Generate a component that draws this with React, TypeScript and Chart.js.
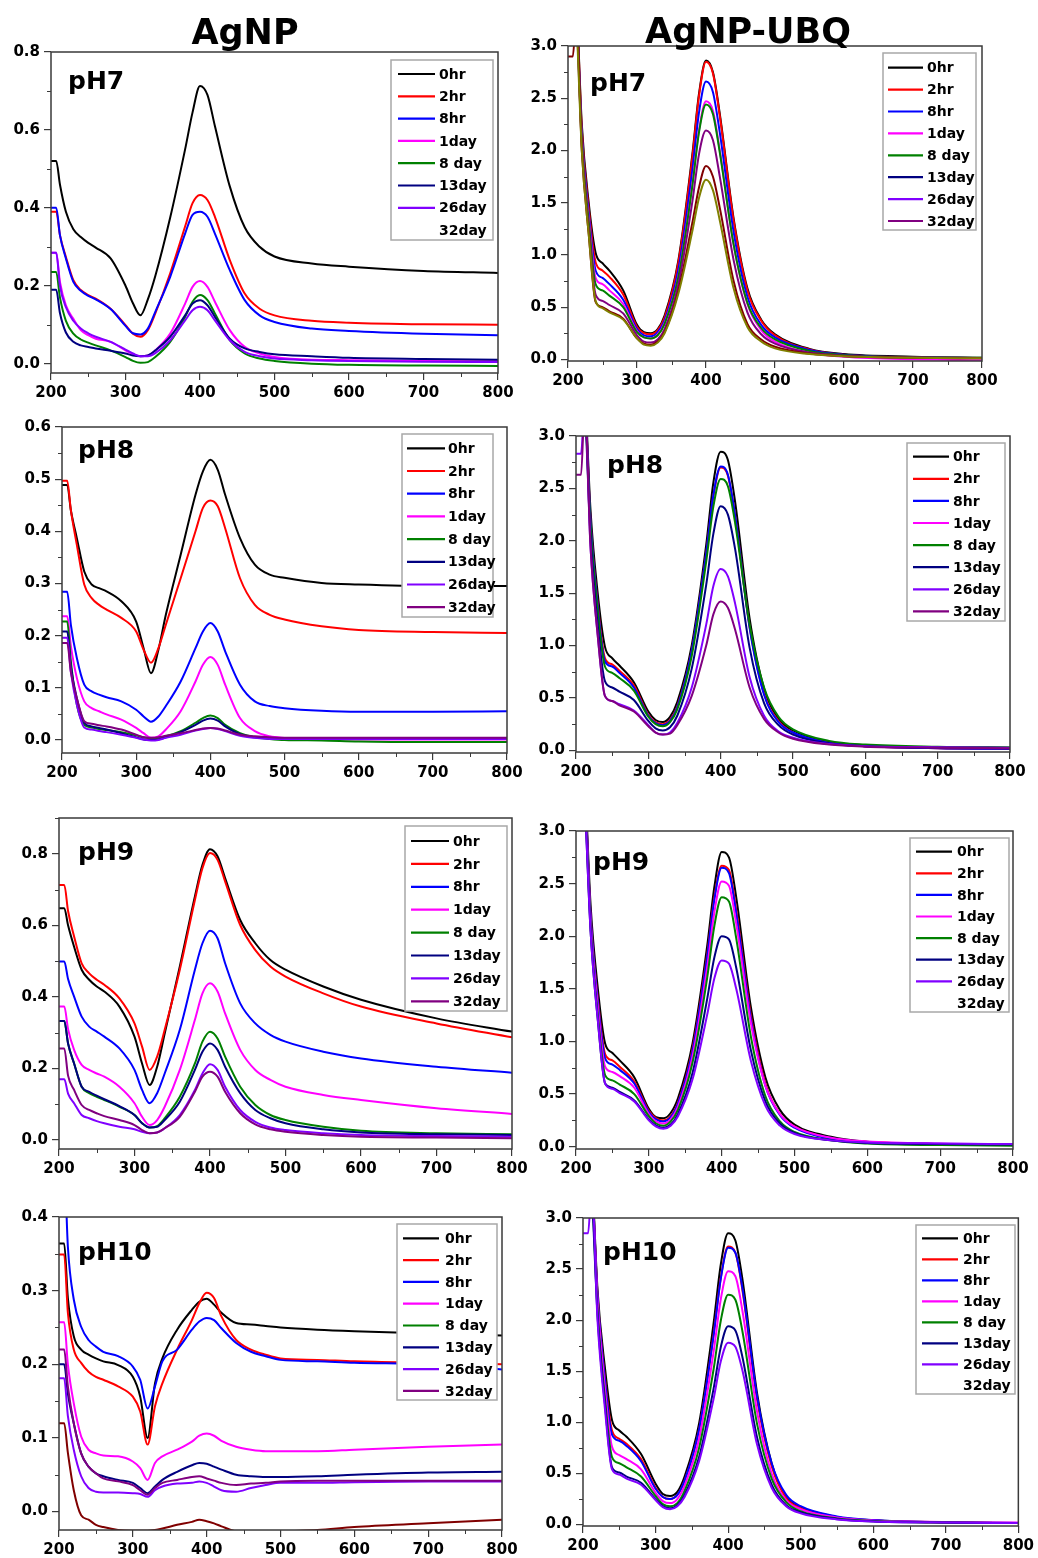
import { useEffect, useRef } from "react";
import { Chart, registerables } from "chart.js";

Chart.register(...registerables);

// ---------- shared axes ----------
const WAVELENGTH = [200, 207, 212, 220, 230, 240, 250, 260, 280, 300, 310, 320, 330, 340, 360, 380, 390, 400, 410, 420, 440, 460, 480, 500, 550, 600, 700, 800];
const X_TICKS = [200, 300, 400, 500, 600, 700, 800];
const Y_TICKS_AG_PH7 = [0, 0.2, 0.4, 0.6, 0.8];
const Y_TICKS_AG_PH8 = [0, 0.1, 0.2, 0.3, 0.4, 0.5, 0.6];
const Y_TICKS_AG_PH9 = [0, 0.2, 0.4, 0.6, 0.8];
const Y_TICKS_AG_PH10 = [0, 0.1, 0.2, 0.3, 0.4];
const Y_TICKS_UBQ = [0, 0.5, 1, 1.5, 2, 2.5, 3];
const LEGEND_LABELS = ["0hr", "2hr", "8hr", "1day", "8 day", "13day", "26day", "32day"];

// ---------- AgNP pH7 ----------
const AG7_0HR = [0.52, 0.52, 0.46, 0.39, 0.345, 0.325, 0.31, 0.298, 0.27, 0.2, 0.155, 0.124, 0.165, 0.225, 0.375, 0.55, 0.645, 0.713, 0.69, 0.61, 0.455, 0.35, 0.3, 0.275, 0.257, 0.249, 0.238, 0.233];
const AG7_2HR = [0.39, 0.39, 0.33, 0.274, 0.214, 0.189, 0.176, 0.167, 0.141, 0.099, 0.077, 0.069, 0.086, 0.129, 0.232, 0.352, 0.412, 0.433, 0.42, 0.377, 0.266, 0.18, 0.141, 0.124, 0.11, 0.105, 0.101, 0.1];
const AG7_8HR = [0.4, 0.4, 0.33, 0.27, 0.21, 0.187, 0.174, 0.165, 0.14, 0.097, 0.078, 0.075, 0.09, 0.133, 0.223, 0.334, 0.382, 0.39, 0.377, 0.334, 0.24, 0.163, 0.124, 0.107, 0.09, 0.084, 0.077, 0.073];
const AG7_1DAY = [0.285, 0.285, 0.21, 0.15, 0.115, 0.086, 0.073, 0.064, 0.056, 0.034, 0.024, 0.019, 0.021, 0.034, 0.077, 0.154, 0.197, 0.212, 0.197, 0.159, 0.086, 0.043, 0.026, 0.017, 0.01, 0.009, 0.007, 0.006];
const AG7_8DAY = [0.235, 0.235, 0.17, 0.11, 0.077, 0.062, 0.054, 0.047, 0.034, 0.017, 0.007, 0.002, 0.004, 0.017, 0.056, 0.12, 0.159, 0.176, 0.163, 0.129, 0.06, 0.026, 0.013, 0.007, 0.0, -0.003, -0.005, -0.006];
const AG7_13DAY = [0.19, 0.19, 0.13, 0.08, 0.056, 0.047, 0.043, 0.039, 0.033, 0.026, 0.021, 0.019, 0.021, 0.034, 0.069, 0.124, 0.154, 0.163, 0.15, 0.12, 0.064, 0.039, 0.03, 0.024, 0.019, 0.015, 0.012, 0.01];
const AG7_26DAY = [0.285, 0.285, 0.2, 0.145, 0.11, 0.09, 0.078, 0.069, 0.056, 0.036, 0.026, 0.019, 0.019, 0.027, 0.06, 0.111, 0.137, 0.146, 0.137, 0.111, 0.06, 0.03, 0.019, 0.013, 0.009, 0.007, 0.005, 0.004];

// ---------- AgNP-UBQ pH7 ----------
const UBQ7_0HR = [3.9, 3.9, 3.5, 2.25, 1.5, 1.02, 0.92, 0.85, 0.66, 0.33, 0.26, 0.25, 0.29, 0.42, 0.95, 1.95, 2.55, 2.86, 2.75, 2.35, 1.35, 0.68, 0.38, 0.24, 0.1, 0.05, 0.025, 0.015];
const UBQ7_2HR = [3.9, 3.9, 3.5, 2.2, 1.45, 0.93, 0.85, 0.79, 0.62, 0.31, 0.25, 0.24, 0.28, 0.4, 0.93, 1.92, 2.53, 2.85, 2.74, 2.33, 1.33, 0.66, 0.37, 0.23, 0.095, 0.045, 0.02, 0.012];
const UBQ7_8HR = [3.9, 3.9, 3.45, 2.15, 1.4, 0.85, 0.78, 0.72, 0.57, 0.29, 0.23, 0.22, 0.26, 0.37, 0.86, 1.8, 2.37, 2.66, 2.56, 2.17, 1.22, 0.6, 0.33, 0.21, 0.09, 0.045, 0.02, 0.012];
const UBQ7_1DAY = [3.9, 3.9, 3.4, 2.1, 1.35, 0.78, 0.72, 0.66, 0.53, 0.27, 0.21, 0.2, 0.24, 0.35, 0.8, 1.67, 2.2, 2.47, 2.38, 2.0, 1.1, 0.53, 0.28, 0.17, 0.06, 0.025, 0.0, -0.01];
const UBQ7_8DAY = [3.9, 3.9, 3.4, 2.1, 1.32, 0.72, 0.66, 0.61, 0.5, 0.26, 0.21, 0.2, 0.23, 0.34, 0.79, 1.65, 2.18, 2.44, 2.35, 1.98, 1.1, 0.54, 0.3, 0.19, 0.08, 0.04, 0.02, 0.015];
const UBQ7_32DAY = [3.9, 3.9, 3.35, 2.05, 1.25, 0.62, 0.56, 0.52, 0.44, 0.23, 0.17, 0.16, 0.19, 0.29, 0.72, 1.5, 1.97, 2.19, 2.1, 1.75, 0.95, 0.45, 0.24, 0.15, 0.065, 0.035, 0.018, 0.012];
const UBQ7_EXTRA_A = [2.9, 2.9, 3.3, 2.0, 1.2, 0.55, 0.5, 0.46, 0.39, 0.2, 0.15, 0.14, 0.17, 0.26, 0.66, 1.3, 1.65, 1.85, 1.75, 1.45, 0.75, 0.34, 0.19, 0.12, 0.055, 0.03, 0.015, 0.01];
const UBQ7_EXTRA_B = [3.9, 3.9, 3.3, 2.0, 1.2, 0.56, 0.49, 0.45, 0.38, 0.2, 0.14, 0.13, 0.16, 0.25, 0.63, 1.22, 1.55, 1.72, 1.62, 1.33, 0.68, 0.31, 0.17, 0.105, 0.05, 0.03, 0.015, 0.01];

// ---------- AgNP pH8 ----------
const AG8_0HR = [0.489, 0.489, 0.44, 0.387, 0.323, 0.298, 0.291, 0.285, 0.266, 0.227, 0.176, 0.128, 0.173, 0.24, 0.355, 0.47, 0.515, 0.537, 0.518, 0.47, 0.387, 0.336, 0.317, 0.311, 0.301, 0.298, 0.295, 0.295];
const AG8_2HR = [0.497, 0.497, 0.44, 0.374, 0.298, 0.272, 0.259, 0.25, 0.234, 0.208, 0.173, 0.148, 0.176, 0.221, 0.31, 0.4, 0.445, 0.459, 0.448, 0.406, 0.31, 0.259, 0.24, 0.231, 0.218, 0.211, 0.207, 0.205];
const AG8_8HR = [0.284, 0.284, 0.22, 0.157, 0.106, 0.093, 0.087, 0.082, 0.074, 0.058, 0.045, 0.035, 0.045, 0.065, 0.112, 0.176, 0.208, 0.224, 0.208, 0.17, 0.106, 0.074, 0.065, 0.061, 0.056, 0.054, 0.054, 0.055];
const AG8_1DAY = [0.237, 0.237, 0.18, 0.119, 0.074, 0.061, 0.055, 0.049, 0.039, 0.023, 0.013, 0.004, 0.007, 0.02, 0.055, 0.112, 0.144, 0.159, 0.144, 0.106, 0.042, 0.017, 0.007, 0.004, 0.002, 0.001, 0.001, 0.001];
const AG8_8DAY = [0.227, 0.227, 0.15, 0.068, 0.029, 0.024, 0.021, 0.019, 0.015, 0.009, 0.005, 0.003, 0.004, 0.007, 0.017, 0.033, 0.042, 0.047, 0.042, 0.029, 0.013, 0.005, 0.002, 0.0, -0.001, -0.003, -0.004, -0.004];
const AG8_13DAY = [0.208, 0.208, 0.14, 0.08, 0.033, 0.026, 0.023, 0.02, 0.013, 0.005, 0.001, 0.0, 0.001, 0.005, 0.015, 0.029, 0.037, 0.041, 0.037, 0.026, 0.011, 0.005, 0.003, 0.002, 0.002, 0.002, 0.002, 0.002];
const AG8_26DAY = [0.196, 0.196, 0.13, 0.068, 0.024, 0.02, 0.017, 0.015, 0.01, 0.004, 0.001, -0.001, 0.0, 0.004, 0.01, 0.018, 0.021, 0.023, 0.021, 0.017, 0.008, 0.004, 0.002, 0.002, 0.002, 0.002, 0.002, 0.002];
const AG8_32DAY = [0.186, 0.186, 0.13, 0.08, 0.036, 0.031, 0.028, 0.026, 0.02, 0.01, 0.005, 0.004, 0.005, 0.008, 0.013, 0.019, 0.022, 0.023, 0.022, 0.018, 0.01, 0.007, 0.005, 0.004, 0.004, 0.004, 0.004, 0.004];

// ---------- AgNP-UBQ pH8 ----------
const UBQ8_0HR = [3.9, 3.9, 3.5, 2.3, 1.5, 0.99, 0.88, 0.81, 0.65, 0.37, 0.29, 0.27, 0.32, 0.46, 1.0, 1.96, 2.56, 2.85, 2.77, 2.37, 1.26, 0.59, 0.3, 0.19, 0.08, 0.048, 0.022, 0.016];
const UBQ8_2HR = [3.9, 3.9, 3.45, 2.2, 1.4, 0.88, 0.82, 0.76, 0.62, 0.34, 0.27, 0.25, 0.29, 0.42, 0.95, 1.88, 2.43, 2.7, 2.62, 2.24, 1.18, 0.54, 0.28, 0.17, 0.07, 0.04, 0.02, 0.015];
const UBQ8_8HR = [3.9, 3.9, 3.45, 2.2, 1.38, 0.85, 0.8, 0.74, 0.6, 0.33, 0.26, 0.24, 0.28, 0.41, 0.95, 1.88, 2.44, 2.71, 2.63, 2.24, 1.17, 0.53, 0.27, 0.17, 0.07, 0.04, 0.02, 0.015];
const UBQ8_8DAY = [3.9, 3.9, 3.4, 2.15, 1.33, 0.8, 0.74, 0.69, 0.57, 0.32, 0.25, 0.23, 0.27, 0.39, 0.9, 1.8, 2.33, 2.59, 2.52, 2.17, 1.2, 0.6, 0.32, 0.2, 0.09, 0.055, 0.035, 0.03];
const UBQ8_13DAY = [3.9, 3.9, 3.35, 2.05, 1.2, 0.66, 0.6, 0.56, 0.48, 0.28, 0.21, 0.19, 0.22, 0.33, 0.78, 1.58, 2.07, 2.33, 2.25, 1.92, 0.98, 0.45, 0.24, 0.15, 0.065, 0.04, 0.025, 0.02];
const UBQ8_26DAY = [2.83, 2.83, 3.3, 1.95, 1.1, 0.52, 0.47, 0.44, 0.38, 0.24, 0.17, 0.15, 0.17, 0.26, 0.6, 1.2, 1.57, 1.73, 1.66, 1.4, 0.7, 0.33, 0.18, 0.12, 0.06, 0.04, 0.03, 0.025];
const UBQ8_32DAY = [2.63, 2.63, 3.3, 1.95, 1.1, 0.52, 0.47, 0.43, 0.37, 0.23, 0.17, 0.15, 0.16, 0.24, 0.52, 1.0, 1.3, 1.42, 1.36, 1.15, 0.6, 0.3, 0.17, 0.11, 0.055, 0.035, 0.025, 0.02];

// ---------- AgNP pH9 ----------
const AG9_0HR = [0.648, 0.648, 0.6, 0.54, 0.476, 0.448, 0.429, 0.415, 0.373, 0.289, 0.214, 0.154, 0.205, 0.298, 0.485, 0.681, 0.769, 0.813, 0.793, 0.732, 0.615, 0.55, 0.503, 0.476, 0.429, 0.392, 0.34, 0.303];
const AG9_2HR = [0.713, 0.713, 0.64, 0.569, 0.494, 0.466, 0.448, 0.434, 0.396, 0.326, 0.261, 0.196, 0.233, 0.308, 0.476, 0.671, 0.76, 0.802, 0.783, 0.723, 0.601, 0.531, 0.485, 0.457, 0.41, 0.373, 0.326, 0.287];
const AG9_8HR = [0.499, 0.499, 0.45, 0.401, 0.345, 0.317, 0.303, 0.289, 0.256, 0.196, 0.14, 0.103, 0.131, 0.186, 0.308, 0.476, 0.55, 0.585, 0.564, 0.494, 0.382, 0.326, 0.294, 0.275, 0.247, 0.228, 0.205, 0.188];
const AG9_1DAY = [0.373, 0.373, 0.31, 0.252, 0.21, 0.196, 0.186, 0.177, 0.149, 0.103, 0.065, 0.042, 0.056, 0.093, 0.196, 0.336, 0.41, 0.438, 0.415, 0.354, 0.252, 0.196, 0.168, 0.149, 0.126, 0.112, 0.089, 0.073];
const AG9_8DAY = [0.333, 0.333, 0.27, 0.214, 0.149, 0.131, 0.121, 0.112, 0.093, 0.07, 0.047, 0.035, 0.039, 0.061, 0.121, 0.214, 0.275, 0.303, 0.284, 0.233, 0.149, 0.098, 0.07, 0.056, 0.037, 0.026, 0.019, 0.016];
const AG9_13DAY = [0.333, 0.333, 0.27, 0.214, 0.149, 0.135, 0.124, 0.114, 0.095, 0.07, 0.047, 0.035, 0.037, 0.056, 0.107, 0.196, 0.247, 0.27, 0.252, 0.205, 0.131, 0.084, 0.061, 0.047, 0.03, 0.021, 0.016, 0.014];
const AG9_26DAY = [0.17, 0.17, 0.13, 0.103, 0.07, 0.061, 0.053, 0.047, 0.037, 0.03, 0.023, 0.019, 0.021, 0.033, 0.07, 0.14, 0.186, 0.212, 0.196, 0.149, 0.084, 0.051, 0.035, 0.028, 0.019, 0.014, 0.011, 0.009];
const AG9_32DAY = [0.256, 0.256, 0.18, 0.14, 0.098, 0.084, 0.075, 0.067, 0.056, 0.042, 0.028, 0.019, 0.021, 0.033, 0.065, 0.135, 0.177, 0.191, 0.177, 0.135, 0.075, 0.044, 0.03, 0.023, 0.014, 0.009, 0.007, 0.005];

// ---------- AgNP-UBQ pH9 ----------
const UBQ9_0HR = [3.9, 3.9, 3.5, 2.3, 1.5, 0.98, 0.89, 0.82, 0.66, 0.36, 0.28, 0.27, 0.32, 0.46, 0.98, 1.9, 2.47, 2.8, 2.75, 2.37, 1.33, 0.66, 0.35, 0.21, 0.095, 0.047, 0.025, 0.02];
const UBQ9_2HR = [3.9, 3.9, 3.45, 2.2, 1.4, 0.88, 0.82, 0.76, 0.62, 0.34, 0.27, 0.25, 0.29, 0.42, 0.93, 1.82, 2.37, 2.67, 2.63, 2.25, 1.25, 0.6, 0.31, 0.19, 0.08, 0.045, 0.025, 0.02];
const UBQ9_8HR = [3.9, 3.9, 3.45, 2.2, 1.38, 0.84, 0.78, 0.73, 0.6, 0.33, 0.26, 0.24, 0.28, 0.41, 0.91, 1.8, 2.35, 2.65, 2.6, 2.22, 1.22, 0.58, 0.3, 0.18, 0.075, 0.04, 0.022, 0.018];
const UBQ9_1DAY = [3.9, 3.9, 3.4, 2.15, 1.33, 0.76, 0.71, 0.67, 0.56, 0.31, 0.24, 0.22, 0.26, 0.38, 0.86, 1.7, 2.23, 2.52, 2.48, 2.12, 1.18, 0.58, 0.31, 0.19, 0.085, 0.05, 0.03, 0.025];
const UBQ9_8DAY = [3.9, 3.9, 3.35, 2.1, 1.25, 0.68, 0.63, 0.59, 0.5, 0.29, 0.22, 0.2, 0.24, 0.35, 0.8, 1.6, 2.1, 2.37, 2.33, 1.98, 1.05, 0.48, 0.24, 0.14, 0.06, 0.03, 0.015, 0.01];
const UBQ9_13DAY = [3.9, 3.9, 3.3, 2.05, 1.2, 0.6, 0.56, 0.52, 0.44, 0.26, 0.2, 0.18, 0.21, 0.31, 0.7, 1.4, 1.8, 2.0, 1.97, 1.7, 0.92, 0.43, 0.22, 0.13, 0.06, 0.035, 0.025, 0.02];
const UBQ9_26DAY = [3.9, 3.9, 3.3, 2.05, 1.2, 0.6, 0.55, 0.51, 0.43, 0.25, 0.19, 0.17, 0.2, 0.29, 0.64, 1.25, 1.6, 1.77, 1.74, 1.5, 0.82, 0.39, 0.2, 0.12, 0.06, 0.04, 0.03, 0.025];

// ---------- AgNP pH10 ----------
const AG10_0HR = [0.364, 0.364, 0.29, 0.238, 0.22, 0.213, 0.208, 0.204, 0.199, 0.183, 0.156, 0.1, 0.174, 0.208, 0.247, 0.274, 0.285, 0.289, 0.281, 0.27, 0.256, 0.254, 0.252, 0.25, 0.247, 0.245, 0.242, 0.239];
const AG10_2HR = [0.349, 0.349, 0.27, 0.22, 0.202, 0.19, 0.183, 0.179, 0.17, 0.156, 0.136, 0.091, 0.143, 0.174, 0.22, 0.26, 0.283, 0.297, 0.29, 0.265, 0.233, 0.22, 0.213, 0.208, 0.206, 0.204, 0.202, 0.2];
const AG10_8HR = [0.5, 0.48, 0.36, 0.288, 0.251, 0.233, 0.224, 0.217, 0.211, 0.197, 0.179, 0.14, 0.17, 0.204, 0.22, 0.247, 0.258, 0.263, 0.26, 0.249, 0.229, 0.217, 0.211, 0.206, 0.204, 0.202, 0.2, 0.193];
const AG10_1DAY = [0.257, 0.257, 0.2, 0.147, 0.102, 0.084, 0.079, 0.076, 0.075, 0.068, 0.059, 0.043, 0.066, 0.075, 0.084, 0.095, 0.103, 0.106, 0.103, 0.096, 0.088, 0.084, 0.082, 0.082, 0.082, 0.084, 0.088, 0.091];
const AG10_13DAY = [0.2, 0.2, 0.16, 0.12, 0.079, 0.061, 0.052, 0.048, 0.043, 0.039, 0.032, 0.025, 0.034, 0.043, 0.054, 0.063, 0.066, 0.065, 0.061, 0.057, 0.05, 0.048, 0.047, 0.047, 0.048, 0.05, 0.053, 0.054];
const AG10_26DAY = [0.181, 0.181, 0.13, 0.084, 0.048, 0.032, 0.027, 0.026, 0.026, 0.025, 0.024, 0.02, 0.029, 0.034, 0.038, 0.039, 0.041, 0.039, 0.034, 0.029, 0.027, 0.032, 0.036, 0.039, 0.039, 0.04, 0.041, 0.041];
const AG10_32DAY = [0.22, 0.22, 0.17, 0.12, 0.079, 0.061, 0.052, 0.045, 0.041, 0.036, 0.029, 0.023, 0.032, 0.039, 0.043, 0.047, 0.048, 0.045, 0.042, 0.039, 0.036, 0.038, 0.039, 0.041, 0.042, 0.042, 0.042, 0.042];
const AG10_EXTRA = [0.12, 0.12, 0.08, 0.029, -0.005, -0.011, -0.018, -0.021, -0.025, -0.026, -0.026, -0.026, -0.025, -0.023, -0.018, -0.014, -0.011, -0.013, -0.016, -0.02, -0.027, -0.029, -0.029, -0.027, -0.025, -0.021, -0.016, -0.011];

// ---------- AgNP-UBQ pH10 ----------
const UBQ10_0HR = [3.9, 3.9, 3.5, 2.3, 1.55, 1.02, 0.92, 0.86, 0.69, 0.4, 0.3, 0.28, 0.32, 0.47, 0.99, 1.97, 2.55, 2.85, 2.78, 2.39, 1.28, 0.6, 0.27, 0.17, 0.075, 0.042, 0.023, 0.016];
const UBQ10_2HR = [3.9, 3.9, 3.45, 2.25, 1.45, 0.92, 0.84, 0.79, 0.64, 0.36, 0.27, 0.25, 0.29, 0.43, 0.93, 1.86, 2.42, 2.72, 2.66, 2.28, 1.22, 0.57, 0.26, 0.16, 0.07, 0.04, 0.02, 0.015];
const UBQ10_8HR = [3.9, 3.9, 3.45, 2.25, 1.43, 0.88, 0.82, 0.77, 0.62, 0.35, 0.27, 0.25, 0.29, 0.43, 0.93, 1.85, 2.41, 2.71, 2.66, 2.3, 1.25, 0.6, 0.29, 0.18, 0.08, 0.045, 0.022, 0.016];
const UBQ10_1DAY = [3.9, 3.9, 3.4, 2.2, 1.35, 0.76, 0.68, 0.64, 0.54, 0.31, 0.23, 0.21, 0.25, 0.38, 0.84, 1.69, 2.21, 2.48, 2.43, 2.08, 1.1, 0.5, 0.24, 0.15, 0.07, 0.04, 0.025, 0.02];
const UBQ10_8DAY = [3.9, 3.9, 3.35, 2.1, 1.25, 0.66, 0.6, 0.56, 0.47, 0.28, 0.2, 0.18, 0.21, 0.33, 0.75, 1.52, 2.0, 2.25, 2.2, 1.88, 0.98, 0.45, 0.22, 0.13, 0.06, 0.035, 0.02, 0.015];
const UBQ10_13DAY = [3.9, 3.9, 3.3, 2.05, 1.2, 0.56, 0.51, 0.47, 0.41, 0.25, 0.18, 0.16, 0.19, 0.29, 0.66, 1.33, 1.74, 1.94, 1.9, 1.63, 0.85, 0.39, 0.19, 0.12, 0.055, 0.03, 0.02, 0.015];
const UBQ10_26DAY = [2.85, 2.85, 3.3, 2.0, 1.15, 0.54, 0.49, 0.45, 0.39, 0.24, 0.17, 0.15, 0.18, 0.27, 0.62, 1.23, 1.6, 1.78, 1.74, 1.5, 0.78, 0.36, 0.18, 0.11, 0.05, 0.03, 0.02, 0.015];

// ---------- styles ----------
const C = {
  black: "#000000",
  red: "#ff0000",
  blue: "#0000ff",
  magenta: "#ff00ff",
  green: "#008000",
  navy: "#000080",
  violet: "#8000ff",
  purple: "#800080",
  brown: "#800000",
  olive: "#808000",
};
const LEGEND_COLORS_ALL = [C.black, C.red, C.blue, C.magenta, C.green, C.navy, C.violet, C.purple];
const LEGEND_COLORS_NO32 = [C.black, C.red, C.blue, C.magenta, C.green, C.navy, C.violet, null];

type Series = { color: string; values: number[] };
type PanelDef = {
  key: string;
  col: number;
  header?: string;
  headerX?: number;
  headerY?: number;
  ph: string;
  phX: number;
  phY: number;
  plot: [number, number, number, number];
  yMin: number;
  yMax: number;
  yTicks: number[];
  yMinor: number;
  series: Series[];
  legendColors: (string | null)[];
  legend: { box: [number, number, number, number]; row0: number; step: number; x1: number; x2: number; tx: number };
};

const PANELS: PanelDef[] = [
  {
    key: "ag7", col: 0, header: "AgNP", headerX: 245, headerY: 44,
    ph: "pH7", phX: 68, phY: 89, plot: [51, 52, 498, 373],
    yMin: -0.024, yMax: 0.8, yTicks: Y_TICKS_AG_PH7, yMinor: 0.1,
    series: [
      { color: C.black, values: AG7_0HR },
      { color: C.red, values: AG7_2HR },
      { color: C.blue, values: AG7_8HR },
      { color: C.magenta, values: AG7_1DAY },
      { color: C.green, values: AG7_8DAY },
      { color: C.navy, values: AG7_13DAY },
      { color: C.violet, values: AG7_26DAY },
    ],
    legendColors: LEGEND_COLORS_NO32,
    legend: { box: [391, 60, 493, 240], row0: 74, step: 22.3, x1: 398, x2: 435, tx: 439 },
  },
  {
    key: "ubq7", col: 1, header: "AgNP-UBQ", headerX: 748, headerY: 43,
    ph: "pH7", phX: 590, phY: 91, plot: [568, 46, 982, 361],
    yMin: -0.016, yMax: 3, yTicks: Y_TICKS_UBQ, yMinor: 0.25,
    series: [
      { color: C.black, values: UBQ7_0HR },
      { color: C.red, values: UBQ7_2HR },
      { color: C.blue, values: UBQ7_8HR },
      { color: C.magenta, values: UBQ7_1DAY },
      { color: C.green, values: UBQ7_8DAY },
      { color: C.purple, values: UBQ7_32DAY },
      { color: C.brown, values: UBQ7_EXTRA_A },
      { color: C.olive, values: UBQ7_EXTRA_B },
    ],
    legendColors: LEGEND_COLORS_ALL,
    legend: { box: [883, 53, 976, 230], row0: 67.7, step: 21.9, x1: 888, x2: 923, tx: 927 },
  },
  {
    key: "ag8", col: 0,
    ph: "pH8", phX: 78, phY: 458, plot: [62, 427, 507, 753],
    yMin: -0.025, yMax: 0.6, yTicks: Y_TICKS_AG_PH8, yMinor: 0.05,
    series: [
      { color: C.black, values: AG8_0HR },
      { color: C.red, values: AG8_2HR },
      { color: C.blue, values: AG8_8HR },
      { color: C.magenta, values: AG8_1DAY },
      { color: C.green, values: AG8_8DAY },
      { color: C.navy, values: AG8_13DAY },
      { color: C.violet, values: AG8_26DAY },
      { color: C.purple, values: AG8_32DAY },
    ],
    legendColors: LEGEND_COLORS_ALL,
    legend: { box: [402, 434, 493, 617], row0: 448.3, step: 22.7, x1: 407, x2: 445, tx: 448 },
  },
  {
    key: "ubq8", col: 1,
    ph: "pH8", phX: 607, phY: 473, plot: [576, 436, 1010, 752],
    yMin: -0.016, yMax: 3, yTicks: Y_TICKS_UBQ, yMinor: 0.25,
    series: [
      { color: C.black, values: UBQ8_0HR },
      { color: C.red, values: UBQ8_2HR },
      { color: C.blue, values: UBQ8_8HR },
      { color: C.green, values: UBQ8_8DAY },
      { color: C.navy, values: UBQ8_13DAY },
      { color: C.violet, values: UBQ8_26DAY },
      { color: C.purple, values: UBQ8_32DAY },
    ],
    legendColors: LEGEND_COLORS_ALL,
    legend: { box: [907, 443, 1005, 621], row0: 456.7, step: 22.1, x1: 913, x2: 949, tx: 953 },
  },
  {
    key: "ag9", col: 0,
    ph: "pH9", phX: 78, phY: 860, plot: [59, 818, 512, 1149],
    yMin: -0.025, yMax: 0.9, yTicks: Y_TICKS_AG_PH9, yMinor: 0.1,
    series: [
      { color: C.black, values: AG9_0HR },
      { color: C.red, values: AG9_2HR },
      { color: C.blue, values: AG9_8HR },
      { color: C.magenta, values: AG9_1DAY },
      { color: C.green, values: AG9_8DAY },
      { color: C.navy, values: AG9_13DAY },
      { color: C.violet, values: AG9_26DAY },
      { color: C.purple, values: AG9_32DAY },
    ],
    legendColors: LEGEND_COLORS_ALL,
    legend: { box: [405, 826, 507, 1011], row0: 841, step: 22.9, x1: 411, x2: 449, tx: 453 },
  },
  {
    key: "ubq9", col: 1,
    ph: "pH9", phX: 593, phY: 870, plot: [576, 831, 1013, 1149],
    yMin: -0.022, yMax: 3, yTicks: Y_TICKS_UBQ, yMinor: 0.25,
    series: [
      { color: C.black, values: UBQ9_0HR },
      { color: C.red, values: UBQ9_2HR },
      { color: C.blue, values: UBQ9_8HR },
      { color: C.magenta, values: UBQ9_1DAY },
      { color: C.green, values: UBQ9_8DAY },
      { color: C.navy, values: UBQ9_13DAY },
      { color: C.violet, values: UBQ9_26DAY },
    ],
    legendColors: LEGEND_COLORS_NO32,
    legend: { box: [910, 838, 1009, 1012], row0: 851.7, step: 21.6, x1: 916, x2: 952, tx: 957 },
  },
  {
    key: "ag10", col: 0,
    ph: "pH10", phX: 78, phY: 1260, plot: [59, 1217, 502, 1530],
    yMin: -0.025, yMax: 0.4, yTicks: Y_TICKS_AG_PH10, yMinor: 0.05,
    series: [
      { color: C.black, values: AG10_0HR },
      { color: C.red, values: AG10_2HR },
      { color: C.blue, values: AG10_8HR },
      { color: C.magenta, values: AG10_1DAY },
      { color: C.navy, values: AG10_13DAY },
      { color: C.violet, values: AG10_26DAY },
      { color: C.purple, values: AG10_32DAY },
      { color: C.brown, values: AG10_EXTRA },
    ],
    legendColors: LEGEND_COLORS_ALL,
    legend: { box: [397, 1224, 497, 1400], row0: 1238.3, step: 21.8, x1: 403, x2: 439, tx: 445 },
  },
  {
    key: "ubq10", col: 1,
    ph: "pH10", phX: 603, phY: 1260, plot: [583, 1218, 1019, 1526],
    yMin: -0.014, yMax: 3, yTicks: Y_TICKS_UBQ, yMinor: 0.25,
    series: [
      { color: C.black, values: UBQ10_0HR },
      { color: C.red, values: UBQ10_2HR },
      { color: C.blue, values: UBQ10_8HR },
      { color: C.magenta, values: UBQ10_1DAY },
      { color: C.green, values: UBQ10_8DAY },
      { color: C.navy, values: UBQ10_13DAY },
      { color: C.violet, values: UBQ10_26DAY },
    ],
    legendColors: LEGEND_COLORS_NO32,
    legend: { box: [916, 1225, 1015, 1394], row0: 1238.3, step: 21, x1: 922, x2: 958, tx: 963 },
  },
];

const FONT = "'DejaVu Sans', 'Liberation Sans', sans-serif";
const AXIS_COLOR = "#3a3a3a";

function canvasBox(p: PanelDef) {
  const [, t, , b] = p.plot;
  const cx0 = p.col === 0 ? 0 : 510;
  const cx1 = p.col === 0 ? 535 : 1038;
  const cy0 = p.header ? 0 : t - 45;
  const cy1 = Math.min(b + 35, 1558);
  return { cx0, cx1, cy0, cy1 };
}

function Panel({ p }: { p: PanelDef }) {
  const ref = useRef<HTMLCanvasElement | null>(null);
  const { cx0, cx1, cy0, cy1 } = canvasBox(p);
  const W = cx1 - cx0;
  const H = cy1 - cy0;

  useEffect(() => {
    if (!ref.current) return;
    const [L, T, R, B] = p.plot;
    const n = p.series.length;
    const decor = {
      id: "decor_" + p.key,
      afterDatasetsDraw(chart: any) {
        const { ctx, chartArea: a, scales } = chart;
        const xs = scales.x;
        const ys = scales.y;
        ctx.save();
        // frame
        ctx.strokeStyle = AXIS_COLOR;
        ctx.lineWidth = 1.5;
        ctx.strokeRect(a.left, a.top, a.right - a.left, a.bottom - a.top);
        // minor ticks
        ctx.lineWidth = 1;
        ctx.beginPath();
        const kMin = Math.ceil(p.yMin / p.yMinor - 1e-9);
        const kMax = Math.floor(p.yMax / p.yMinor + 1e-9);
        for (let k = kMin; k <= kMax; k++) {
          const v = k * p.yMinor;
          if (p.yTicks.some((t) => Math.abs(t - v) < 1e-6)) continue;
          const y = Math.round(ys.getPixelForValue(v)) + 0.5;
          ctx.moveTo(a.left - 4, y);
          ctx.lineTo(a.left, y);
        }
        for (let v = 250; v < 800; v += 100) {
          const x = Math.round(xs.getPixelForValue(v)) + 0.5;
          ctx.moveTo(x, a.bottom);
          ctx.lineTo(x, a.bottom + 4);
        }
        ctx.stroke();

        // header
        if (p.header) {
          ctx.fillStyle = "#000";
          ctx.font = `bold 35px ${FONT}`;
          ctx.textAlign = "center";
          ctx.textBaseline = "alphabetic";
          ctx.fillText(p.header, (p.headerX as number) - cx0, (p.headerY as number) - cy0);
        }
        // pH label
        ctx.fillStyle = "#000";
        ctx.font = `bold 25px ${FONT}`;
        ctx.textAlign = "left";
        ctx.textBaseline = "alphabetic";
        ctx.fillText(p.ph, p.phX - cx0, p.phY - cy0);

        // legend
        const lg = p.legend;
        const [bl, bt, br, bb] = lg.box;
        ctx.fillStyle = "#ffffff";
        ctx.fillRect(bl - cx0, bt - cy0, br - bl, bb - bt);
        ctx.strokeStyle = "#a8a8a8";
        ctx.lineWidth = 1.5;
        ctx.strokeRect(bl - cx0, bt - cy0, br - bl, bb - bt);
        ctx.font = `bold 14px ${FONT}`;
        ctx.textBaseline = "middle";
        ctx.textAlign = "left";
        LEGEND_LABELS.forEach((lab, i) => {
          const y = lg.row0 + i * lg.step - cy0;
          const col = p.legendColors[i];
          if (col) {
            ctx.strokeStyle = col;
            ctx.lineWidth = 2.2;
            ctx.beginPath();
            ctx.moveTo(lg.x1 - cx0, y);
            ctx.lineTo(lg.x2 - cx0, y);
            ctx.stroke();
          }
          ctx.fillStyle = "#000";
          ctx.fillText(lab, lg.tx - cx0, y + 1);
        });
        ctx.restore();
      },
    };

    const tickFont = { family: FONT, weight: "bold" as const, size: 15 };
    const chart = new Chart(ref.current, {
      type: "line",
      data: {
        datasets: p.series.map((s, i) => ({
          label: "s" + i,
          data: WAVELENGTH.map((x, j) => ({ x, y: s.values[j] })),
          borderColor: s.color,
          backgroundColor: s.color,
          borderWidth: 2,
          pointRadius: 0,
          fill: false,
          cubicInterpolationMode: "monotone" as const,
          order: n - i,
        })),
      },
      options: {
        animation: false,
        responsive: false,
        maintainAspectRatio: false,
        events: [],
        layout: { padding: { left: 0, top: T - cy0, right: cx1 - R, bottom: 0 } },
        plugins: { legend: { display: false }, tooltip: { enabled: false }, title: { display: false } },
        scales: {
          x: {
            type: "linear",
            min: 200,
            max: 800,
            afterFit: (s: any) => {
              s.height = cy1 - B;
            },
            afterBuildTicks: (s: any) => {
              s.ticks = X_TICKS.map((v) => ({ value: v }));
            },
            ticks: {
              font: tickFont,
              color: "#000",
              padding: 4,
              maxRotation: 0,
              autoSkip: false,
              callback: (v: any) => String(v),
            },
            grid: { drawOnChartArea: false, drawTicks: true, tickLength: 7, color: AXIS_COLOR, lineWidth: 1.2 },
            border: { display: false },
          },
          y: {
            type: "linear",
            min: p.yMin,
            max: p.yMax,
            afterFit: (s: any) => {
              s.width = L - cx0;
            },
            afterBuildTicks: (s: any) => {
              s.ticks = p.yTicks.map((v) => ({ value: v }));
            },
            ticks: {
              font: tickFont,
              color: "#000",
              padding: 4,
              autoSkip: false,
              callback: (v: any) => Number(v).toFixed(1),
            },
            grid: { drawOnChartArea: false, drawTicks: true, tickLength: 7, color: AXIS_COLOR, lineWidth: 1.2 },
            border: { display: false },
          },
        },
      },
      plugins: [decor],
    } as any);
    return () => chart.destroy();
  }, []);

  return (
    <canvas
      ref={ref}
      width={W}
      height={H}
      style={{ position: "absolute", left: cx0, top: cy0, width: W, height: H }}
    />
  );
}

export default function App() {
  return (
    <div
      style={{
        position: "absolute",
        left: 0,
        top: 0,
        width: 1038,
        height: 1558,
        overflow: "hidden",
        background: "#ffffff",
      }}
    >
      {PANELS.map((p) => (
        <Panel key={p.key} p={p} />
      ))}
    </div>
  );
}
